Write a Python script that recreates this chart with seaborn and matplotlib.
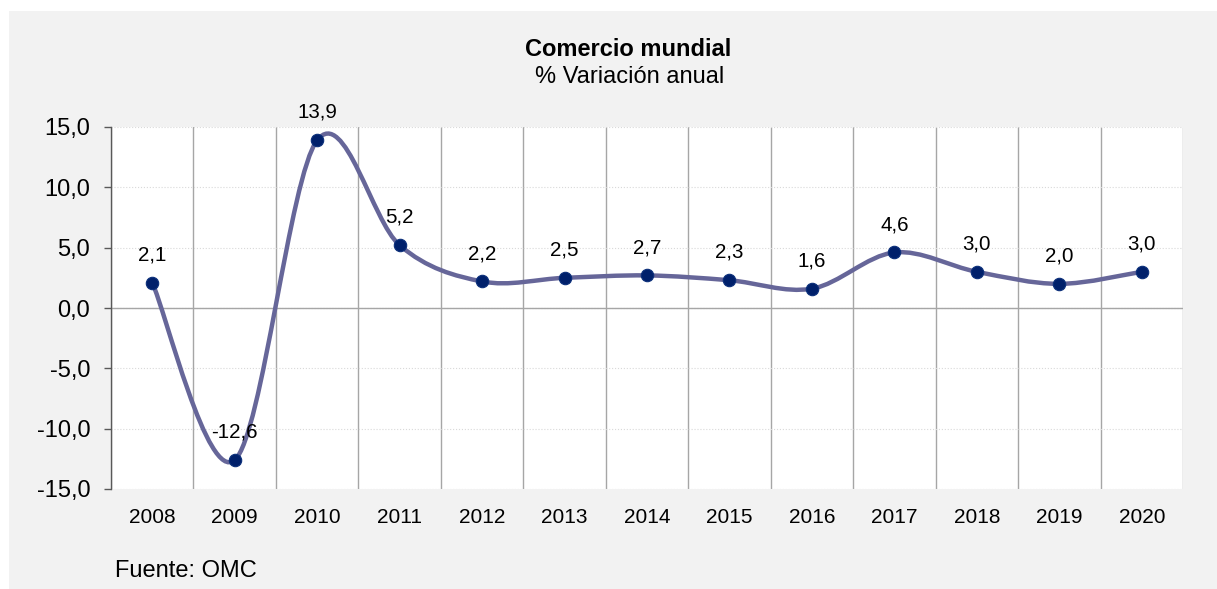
import numpy as np
import matplotlib
matplotlib.use("Agg")
import matplotlib.pyplot as plt
from matplotlib.path import Path
from matplotlib.patches import PathPatch, Rectangle
import seaborn as sns

years = ["2008", "2009", "2010", "2011", "2012", "2013", "2014",
         "2015", "2016", "2017", "2018", "2019", "2020"]
valores = [2.1, -12.6, 13.9, 5.2, 2.2, 2.5, 2.7, 2.3, 1.6, 4.6, 3.0, 2.0, 3.0]
yticks = [-15, -10, -5, 0, 5, 10, 15]

LINE = "#666699"
MARK = "#00206b"


def fmt(v):
    return f"{v:.1f}".replace(".", ",")


def smooth_path(xs, ys):
    # curva suavizada tipo Excel (Catmull-Rom -> Bezier)
    pts = np.column_stack([xs, ys]).astype(float)
    n = len(pts)
    verts = [pts[0]]
    codes = [Path.MOVETO]
    for i in range(n - 1):
        p0 = pts[i - 1] if i > 0 else pts[i]
        p1 = pts[i]
        p2 = pts[i + 1]
        p3 = pts[i + 2] if i + 2 < n else pts[i + 1]
        c1 = p1 + (p2 - p0) / 6
        c2 = p2 - (p3 - p1) / 6
        verts += [c1, c2, p2]
        codes += [Path.CURVE4] * 3
    return Path(verts, codes)


sns.set_style("white")
plt.rcParams["font.family"] = ["Liberation Sans", "DejaVu Sans"]
plt.rcParams["text.color"] = "black"
plt.rcParams["xtick.labelcolor"] = "black"
plt.rcParams["ytick.labelcolor"] = "black"

fig = plt.figure(figsize=(12.17, 5.89), dpi=100)
fig.patches.append(Rectangle((9 / 1217, 0), 1, 1 - 11 / 589,
                             transform=fig.transFigure, facecolor="#f2f2f2",
                             edgecolor="none", zorder=-10))
ax = fig.add_axes([111 / 1217, 100 / 589, 1072 / 1217, 362 / 589])
ax.set_facecolor("white")

x = np.arange(len(years))
ax.add_patch(PathPatch(smooth_path(x, valores), facecolor="none",
                       edgecolor=LINE, lw=3.2, capstyle="round", zorder=3))
sns.scatterplot(x=x, y=valores, ax=ax, color=MARK, s=80,
                edgecolor="#0b2f7a", linewidth=0.8, zorder=4)

for xi, v in zip(x, valores):
    ax.annotate(fmt(v), (xi, v), xytext=(0, 20), textcoords="offset points",
                ha="center", va="center", fontsize=14.8, color="black",
                zorder=5)

ax.set_xlim(-0.5, len(years) - 0.5)
ax.set_ylim(-15, 15)
ax.set_xticks(x)
ax.set_xticklabels(years, fontsize=15)
ax.set_xticks(np.arange(-0.5, len(years)), minor=True)
ax.set_yticks(yticks)
ax.set_yticklabels([fmt(v) for v in yticks], fontsize=17)

ax.tick_params(axis="x", which="both", length=0, pad=14)
ax.tick_params(axis="y", length=5, width=1, color="#595959", pad=10,
               left=True)

ax.grid(False)
ax.grid(axis="x", which="minor", color="#a6a6a6", lw=1)
ax.grid(axis="y", which="major", color="#d9d9d9", lw=0.8, linestyle=":")
ax.axhline(0, color="#a6a6a6", lw=1, zorder=1)

for s in ["top", "right", "bottom"]:
    ax.spines[s].set_visible(False)
ax.spines["left"].set_color("#595959")
ax.spines["left"].set_linewidth(1)

fig.text(0.516, 1 - 50 / 589, "Comercio mundial", ha="center", va="center",
         fontsize=17, fontweight="bold")
fig.text(0.517, 1 - 77 / 589, "% Variación anual", ha="center", va="center",
         fontsize=17)
fig.text(115 / 1217, 1 - 571 / 589, "Fuente: OMC", ha="left", va="center",
         fontsize=17)

fig.savefig("out.png", dpi=100, facecolor="white")
